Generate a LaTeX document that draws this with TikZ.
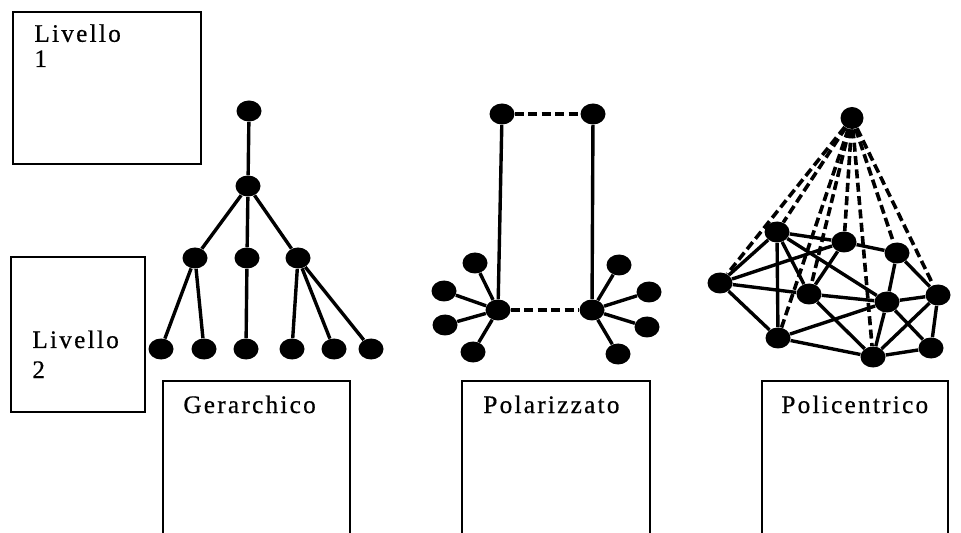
\documentclass[tikz,border=0pt]{standalone}
\usepackage{fontspec}
\setmainfont{Liberation Serif}
\newfontfamily\labelfont[LetterSpace=9,FakeBold=0.6]{Liberation Serif}
\usepackage{tikz}
\usetikzlibrary{shapes.geometric}

\begin{document}
\begin{tikzpicture}[x=0.5pt,y=-0.5pt,
	dot/.style={ellipse,fill=black,inner sep=0pt,minimum width=12.5pt,minimum height=10.5pt},
	link/.style={line width=1.7pt},
	tie/.style={line width=1.8pt,dash pattern=on 4.5pt off 2.2pt},
	frame/.style={line width=1.1pt},
	lbl/.style={anchor=base west,inner sep=0pt,align=left,font=\labelfont\fontsize{12.6pt}{12.6pt}\selectfont}]
				\useasboundingbox (0,0) rectangle (961,533);
				
				% livelli
				\draw [frame] (13,12) rectangle (201,164);
				\node [lbl] (lvlone) at (34,67) {Livello\\1};
				\draw [frame] (11,257) rectangle (145,412);
				\node [lbl] (lvltwo) at (32,378) {Livello\\[2.4pt]2};
				
				% tipologie
				\draw [frame] (163,533) -- (163,381) -- (350,381) -- (350,533);
				\node [lbl] (gerar) at (183,413) {Gerarchico};
				\draw [frame] (462,533) -- (462,381) -- (650,381) -- (650,533);
				\node [lbl] (polar) at (483,413) {Polarizzato};
				\draw [frame] (762,533) -- (762,381) -- (948,381) -- (948,533);
				\node [lbl] (polic) at (781,413) {Policentrico};
				
				% gerarchico
				\node [dot] (g0) at (249,111) {};
				\node [dot] (g1) at (248,186) {};
				\node [dot] (g2) at (195,258) {};
				\node [dot] (g3) at (247,258) {};
				\node [dot] (g4) at (298,258) {};
				\node [dot] (leaf1) at (161,349) {};
				\node [dot] (leaf2) at (204,349) {};
				\node [dot] (leaf3) at (246,349) {};
				\node [dot] (leaf4) at (292,349) {};
				\node [dot] (leaf5) at (334,349) {};
				\node [dot] (leaf6) at (371,349) {};
				
				\draw [link] (g0) to (g1);
				\draw [link] (g1) to (g2);
				\draw [link] (g1) to (g3);
				\draw [link] (g1) to (g4);
				\draw [link] (g2) to (leaf1);
				\draw [link] (g2) to (leaf2);
				\draw [link] (g3) to (leaf3);
				\draw [link] (g4) to (leaf4);
				\draw [link] (g4) to (leaf5);
				\draw [link] (g4) to (leaf6);
				
				% polarizzato
				\node [dot] (pa) at (502,114) {};
				\node [dot] (pb) at (593,114) {};
				\node [dot] (pc) at (498,310) {};
				\node [dot] (pd) at (592,310) {};
				\node [dot] (sl1) at (475,263) {};
				\node [dot] (sl2) at (444,291) {};
				\node [dot] (sl3) at (445,325) {};
				\node [dot] (sl4) at (473,352) {};
				\node [dot] (sr1) at (619,265) {};
				\node [dot] (sr2) at (649,292) {};
				\node [dot] (sr3) at (647,327) {};
				\node [dot] (sr4) at (618,354) {};
				
				\draw [tie] (pa) to (pb);
				\draw [tie] (pc) to (pd);
				\draw [link] (pa) to (pc);
				\draw [link] (pb) to (pd);
				\draw [link] (pc) to (sl1);
				\draw [link] (pc) to (sl2);
				\draw [link] (pc) to (sl3);
				\draw [link] (pc) to (sl4);
				\draw [link] (pd) to (sr1);
				\draw [link] (pd) to (sr2);
				\draw [link] (pd) to (sr3);
				\draw [link] (pd) to (sr4);
				
				% policentrico
				\node [dot,minimum width=11.5pt,minimum height=11pt] (apex) at (852,118) {};
				\node [dot] (c1) at (777,232) {};
				\node [dot] (c2) at (844,242) {};
				\node [dot] (c3) at (897,253) {};
				\node [dot] (c4) at (720,283) {};
				\node [dot] (c5) at (809,294) {};
				\node [dot] (c6) at (887,302) {};
				\node [dot] (c7) at (938,295) {};
				\node [dot] (c8) at (778,338) {};
				\node [dot] (c9) at (873,357) {};
				\node [dot] (c10) at (931,348) {};
				
				\draw [tie] (apex) to (c4);
				\draw [tie] (apex) to (c1);
				\draw [tie] (apex) to (c8);
				\draw [tie] (apex) to (c5);
				\draw [tie] (apex) to (c2);
				\draw [tie] (apex) to (c9);
				\draw [tie] (apex) to (c3);
				\draw [tie] (apex) to (c7);
				
				\draw [link] (c1) to (c2);
				\draw [link] (c2) to (c3);
				\draw [link] (c4) to (c1);
				\draw [link] (c4) to (c2);
				\draw [link] (c4) to (c5);
				\draw [link] (c4) to (c8);
				\draw [link] (c1) to (c8);
				\draw [link] (c1) to (c5);
				\draw [link] (c1) to (c6);
				\draw [link] (c2) to (c5);
				\draw [link] (c5) to (c6);
				\draw [link] (c5) to (c9);
				\draw [link] (c8) to (c6);
				\draw [link] (c8) to (c9);
				\draw [link] (c3) to (c6);
				\draw [link] (c3) to (c7);
				\draw [link] (c6) to (c7);
				\draw [link] (c6) to (c9);
				\draw [link] (c6) to (c10);
				\draw [link] (c7) to (c10);
				\draw [link] (c7) to (c9);
				\draw [link] (c9) to (c10);
				\end{tikzpicture}
\end{document}
